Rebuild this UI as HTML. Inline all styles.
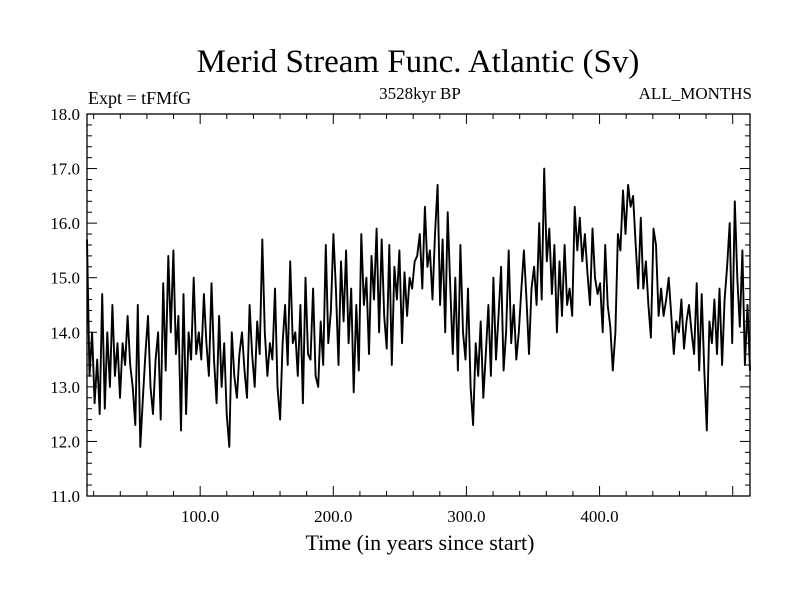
<!DOCTYPE html>
<html><head><meta charset="utf-8"><style>
body{margin:0;background:#fff;}
svg{display:block;font-family:"Liberation Serif",serif;}
</style></head><body>
<svg id="chart" width="800" height="600">
<text x="418" y="72" font-size="33" text-anchor="middle">Merid Stream Func. Atlantic (Sv)</text>
<text x="88" y="104" font-size="18">Expt = tFMfG</text>
<text x="420" y="99" font-size="17" text-anchor="middle">3528kyr BP</text>
<text x="752" y="99" font-size="17" text-anchor="end">ALL_MONTHS</text>
<text x="420" y="550" font-size="22" text-anchor="middle">Time (in years since start)</text>
<g id="axes"></g>
<path id="series" fill="none" stroke="#000" stroke-width="1.9" stroke-linejoin="round"/>
<rect x="87" y="114" width="663" height="382" fill="none" stroke="#000" stroke-width="1.3"/>
</svg>
<script>
const yTicks=[11,12,13,14,15,16,17,18];
const xTicks=[100,200,300,400];
const values=[15.7,13.2,14.0,12.7,13.5,12.5,
14.7,12.6,14.0,13.0,14.5,13.2,13.8,12.8,
13.8,13.4,14.3,13.4,13.0,12.3,14.5,11.9,
12.8,13.6,14.3,13.0,12.5,13.5,14.0,12.4,
14.9,13.3,15.4,14.0,15.5,13.6,14.3,12.2,
14.7,12.5,14.0,13.5,15.0,13.6,14.0,13.5,
14.7,13.8,13.2,14.9,13.5,12.7,14.3,13.0,
13.8,12.5,11.9,14.0,13.2,12.8,13.6,14.0,
13.3,12.8,14.5,13.6,13.0,14.2,13.6,15.7,
14.0,13.2,13.8,13.5,14.8,13.0,12.4,13.8,
14.5,13.4,15.3,13.8,14.0,13.2,14.5,12.7,
15.0,13.6,13.5,14.8,13.2,13.0,14.2,13.4,
15.6,13.8,14.4,15.8,
14.8,13.4,15.3,14.2,15.5,13.8,14.8,12.9,
14.5,13.3,15.8,14.5,15.0,13.6,15.4,14.6,
15.9,14.0,15.7,14.3,13.7,15.6,13.4,15.2,
14.6,15.5,13.8,15.1,14.3,15.0,14.8,15.3,
15.4,15.8,14.8,16.3,15.2,15.5,14.6,15.8,
16.7,14.5,15.7,14.0,16.2,14.8,13.6,15.0,
13.3,15.6,14.0,13.5,14.8,13.0,12.3,13.8,
13.2,14.2,12.8,13.6,14.5,13.2,15.0,13.5,
14.3,15.2,13.3,14.0,15.5,13.8,14.5,13.5,
14.0,14.8,15.5,14.6,13.6,14.8,15.2,14.5,
16.0,14.6,17.0,15.3,15.9,14.7,15.6,14.0,
15.3,14.3,15.6,14.5,14.8,14.3,16.3,15.5,
16.1,15.3,15.8,15.1,14.5,15.9,15.0,14.7,
14.9,14.0,15.6,14.5,14.1,13.3,14.0,15.8,
15.5,16.6,15.8,16.7,16.3,16.5,15.6,14.8,
16.1,14.8,15.3,14.5,13.9,15.9,15.6,14.3,
14.8,14.3,14.6,15.0,14.3,13.6,14.2,14.0,
14.6,13.7,14.2,14.5,14.0,13.6,14.9,13.3,
14.7,13.3,12.2,14.2,13.8,14.6,13.6,14.8,
13.4,14.6,15.2,16.0,13.8,16.4,15.0,14.1,
15.5,13.4,14.5,13.3];
const X0=87,X1=750,Y0=496,Y1=114,XMIN=15,XMAX=513,YMIN=11,YMAX=18;
const sx=v=>X0+(v-XMIN)/(XMAX-XMIN)*(X1-X0);
const sy=v=>Y0-(v-YMIN)/(YMAX-YMIN)*(Y0-Y1);
const NS="http://www.w3.org/2000/svg";
const ax=document.getElementById('axes');
function line(x1,y1,x2,y2,name){const l=document.createElementNS(NS,'line');
l.setAttribute('x1',x1);l.setAttribute('y1',y1);l.setAttribute('x2',x2);l.setAttribute('y2',y2);
l.setAttribute('stroke','#000');l.setAttribute('stroke-width','1');


ax.appendChild(l);}
function text(x,y,s,anchor,name){const t=document.createElementNS(NS,'text');
t.setAttribute('x',x);t.setAttribute('y',y);t.setAttribute('font-size','17');t.setAttribute('text-anchor',anchor);t.textContent=s;


ax.appendChild(t);}
for(let v=YMIN;v<=YMAX+1e-9;v+=0.2){const y=sy(v);const major=Math.abs(v-Math.round(v))<1e-6;const L=major?10:5;
line(X0,y,X0+L,y,'y-tick');line(X1,y,X1-L,y,'y-tick-right');}
yTicks.forEach(v=>text(80,sy(v)+6,v.toFixed(1),'end','y-tick-label'));
for(let v=20;v<=XMAX;v+=20){if(v<XMIN)continue;const x=sx(v);const major=v%100===0;const L=major?10:5;
line(x,Y0,x,Y0-L,'x-tick');line(x,Y1,x,Y1+L,'x-tick-top');}
xTicks.forEach(v=>text(sx(v),522,v.toFixed(1),'middle','x-tick-label'));
const step=(XMAX-XMIN)/(values.length-1);
document.getElementById('series').setAttribute('d',values.map((v,i)=>(i?'L':'M')+sx(XMIN+i*step).toFixed(1)+','+sy(v).toFixed(1)).join(''));
</script>
</body></html>
